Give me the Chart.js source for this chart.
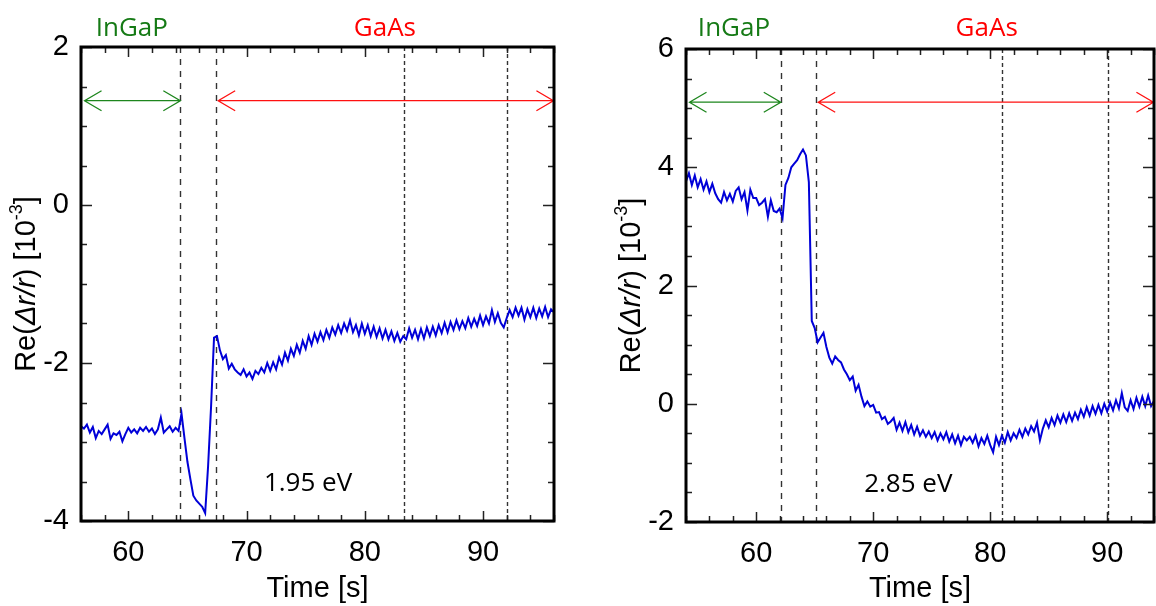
<!DOCTYPE html>
<html>
<head>
<meta charset="utf-8">
<script src="https://cdn.jsdelivr.net/npm/chart.js@4.4.1/dist/chart.umd.min.js"></script>
<style>
  html, body { margin: 0; padding: 0; background: #fff; }
  #wrap { position: relative; width: 1156px; height: 606px; overflow: hidden; }
  canvas { position: absolute; top: 0; }
  #left { left: 0; }
  #right { left: 578px; }
</style>
</head>
<body>
<div id="wrap">
  <canvas id="left" width="578" height="606"></canvas>
  <canvas id="right" width="578" height="606"></canvas>
</div>
<script>
// --- left panel (1.95 eV) ---
const timeL = [
  56, 56.25, 56.5, 56.75, 57, 57.25, 57.5, 57.75,
  58, 58.25, 58.5, 58.75, 59, 59.25, 59.5, 59.75,
  60, 60.25, 60.5, 60.75, 61, 61.25, 61.5, 61.75,
  62, 62.25, 62.5, 62.75, 63, 63.25, 63.5, 63.75,
  64, 64.25, 64.5, 64.75, 65, 65.25, 65.5, 65.75,
  66, 66.25, 66.5, 66.75, 67, 67.25, 67.5, 67.75,
  68, 68.25, 68.5, 68.75, 69, 69.25, 69.5, 69.75,
  70, 70.25, 70.5, 70.75, 71, 71.25, 71.5, 71.75,
  72, 72.25, 72.5, 72.75, 73, 73.25, 73.5, 73.75,
  74, 74.25, 74.5, 74.75, 75, 75.25, 75.5, 75.75,
  76, 76.25, 76.5, 76.75, 77, 77.25, 77.5, 77.75,
  78, 78.25, 78.5, 78.75, 79, 79.25, 79.5, 79.75,
  80, 80.25, 80.5, 80.75, 81, 81.25, 81.5, 81.75,
  82, 82.25, 82.5, 82.75, 83, 83.25, 83.5, 83.75,
  84, 84.25, 84.5, 84.75, 85, 85.25, 85.5, 85.75,
  86, 86.25, 86.5, 86.75, 87, 87.25, 87.5, 87.75,
  88, 88.25, 88.5, 88.75, 89, 89.25, 89.5, 89.75,
  90, 90.25, 90.5, 90.75, 91, 91.25, 91.5, 91.75,
  92, 92.25, 92.5, 92.75, 93, 93.25, 93.5, 93.75,
  94, 94.25, 94.5, 94.75, 95, 95.25, 95.5, 95.75,
  96
];
const reL = [
  -2.80, -2.83, -2.78, -2.88, -2.81, -2.95, -2.86, -2.90,
  -2.84, -2.78, -2.96, -2.89, -2.91, -2.87, -2.99, -2.90,
  -2.82, -2.88, -2.84, -2.89, -2.82, -2.86, -2.81, -2.87,
  -2.83, -2.90, -2.84, -2.69, -2.88, -2.84, -2.80, -2.87,
  -2.82, -2.86, -2.64, -2.95, -3.25, -3.47, -3.68, -3.74,
  -3.78, -3.82, -3.90, -3.30, -2.55, -1.68, -1.66, -1.84,
  -1.95, -1.90, -2.07, -2.01, -2.08, -2.12, -2.15, -2.08,
  -2.17, -2.12, -2.20, -2.10, -2.14, -2.06, -2.12, -2.00,
  -2.10, -1.99, -2.08, -1.93, -2.02, -1.87, -1.97, -1.82,
  -1.91, -1.77, -1.87, -1.72, -1.82, -1.66, -1.77, -1.63,
  -1.73, -1.61, -1.71, -1.58, -1.68, -1.55, -1.64, -1.52,
  -1.62, -1.50, -1.59, -1.46, -1.61, -1.52, -1.65, -1.50,
  -1.63, -1.52, -1.66, -1.54, -1.67, -1.56, -1.69, -1.58,
  -1.70, -1.60, -1.72, -1.62, -1.73, -1.66, -1.70, -1.56,
  -1.68, -1.58, -1.70, -1.57, -1.69, -1.55, -1.66, -1.54,
  -1.65, -1.52, -1.62, -1.49, -1.61, -1.48, -1.58, -1.46,
  -1.57, -1.47, -1.56, -1.43, -1.54, -1.44, -1.53, -1.40,
  -1.52, -1.41, -1.50, -1.33, -1.48, -1.37, -1.49, -1.55,
  -1.43, -1.33, -1.42, -1.30, -1.40, -1.30, -1.45, -1.32,
  -1.42, -1.30, -1.43, -1.31, -1.41, -1.29, -1.42, -1.32,
  -1.36
];
const xTicksL = [60, 70, 80, 90];
const yTicksL = [-4, -2, 0, 2];
const dashL = [64.4, 67.4, 83.3, 92.0];

// --- right panel (2.85 eV) ---
const timeR = [
  54, 54.25, 54.5, 54.75, 55, 55.25, 55.5, 55.75,
  56, 56.25, 56.5, 56.75, 57, 57.25, 57.5, 57.75,
  58, 58.25, 58.5, 58.75, 59, 59.25, 59.5, 59.75,
  60, 60.25, 60.5, 60.75, 61, 61.25, 61.5, 61.75,
  62, 62.25, 62.5, 62.75, 63, 63.25, 63.5, 63.75,
  64, 64.25, 64.5, 64.75, 65, 65.25, 65.5, 65.75,
  66, 66.25, 66.5, 66.75, 67, 67.25, 67.5, 67.75,
  68, 68.25, 68.5, 68.75, 69, 69.25, 69.5, 69.75,
  70, 70.25, 70.5, 70.75, 71, 71.25, 71.5, 71.75,
  72, 72.25, 72.5, 72.75, 73, 73.25, 73.5, 73.75,
  74, 74.25, 74.5, 74.75, 75, 75.25, 75.5, 75.75,
  76, 76.25, 76.5, 76.75, 77, 77.25, 77.5, 77.75,
  78, 78.25, 78.5, 78.75, 79, 79.25, 79.5, 79.75,
  80, 80.25, 80.5, 80.75, 81, 81.25, 81.5, 81.75,
  82, 82.25, 82.5, 82.75, 83, 83.25, 83.5, 83.75,
  84, 84.25, 84.5, 84.75, 85, 85.25, 85.5, 85.75,
  86, 86.25, 86.5, 86.75, 87, 87.25, 87.5, 87.75,
  88, 88.25, 88.5, 88.75, 89, 89.25, 89.5, 89.75,
  90, 90.25, 90.5, 90.75, 91, 91.25, 91.5, 91.75,
  92, 92.25, 92.5, 92.75, 93, 93.25, 93.5, 93.75,
  94
];
const reR = [
  3.76, 3.90, 3.70, 3.86, 3.66, 3.80, 3.62, 3.76,
  3.58, 3.72, 3.56, 3.46, 3.40, 3.58, 3.44, 3.55,
  3.42, 3.60, 3.66, 3.46, 3.58, 3.27, 3.62, 3.48,
  3.48, 3.36, 3.40, 3.46, 3.16, 3.44, 3.26, 3.24,
  3.30, 3.14, 3.70, 3.82, 4.00, 4.06, 4.12, 4.22,
  4.30, 4.20, 3.75, 1.40, 1.28, 1.04, 1.12, 1.20,
  0.96, 0.78, 0.68, 0.80, 0.74, 0.70, 0.58, 0.50,
  0.40, 0.46, 0.22, 0.32, 0.12, -0.04, 0.04, -0.05,
  -0.02, -0.15, -0.14, -0.26, -0.22, -0.34, -0.30, -0.24,
  -0.44, -0.32, -0.46, -0.31, -0.48, -0.36, -0.52, -0.39,
  -0.54, -0.45, -0.56, -0.47, -0.58, -0.48, -0.62, -0.50,
  -0.60, -0.48, -0.64, -0.52, -0.67, -0.54, -0.70, -0.56,
  -0.62, -0.56, -0.66, -0.54, -0.72, -0.58, -0.68, -0.54,
  -0.70, -0.82, -0.56, -0.70, -0.54, -0.66, -0.48, -0.62,
  -0.50, -0.58, -0.44, -0.56, -0.42, -0.52, -0.38, -0.47,
  -0.32, -0.62, -0.42, -0.28, -0.40, -0.24, -0.36, -0.20,
  -0.32, -0.18, -0.31, -0.16, -0.29, -0.15, -0.26, -0.10,
  -0.22, -0.06, -0.20, -0.04, -0.17, -0.02, -0.16, 0.00,
  -0.13, 0.02, -0.11, 0.06, -0.08, 0.18, -0.06, -0.12,
  0.06, -0.09, 0.10, -0.05, 0.12, -0.04, 0.14, -0.04,
  0.05
];
const xTicksR = [60, 70, 80, 90];
const yTicksR = [-2, 0, 2, 4, 6];
const dashR = [62.1, 65.1, 81.0, 90.1];

const AXIS_FONT = 'Liberation Sans';
const NOTE_FONT = 'Open Sans';

function arrow(ctx, x1, x2, y, color) {
  ctx.strokeStyle = color;
  ctx.lineWidth = 1.3;
  ctx.beginPath();
  ctx.moveTo(x1, y); ctx.lineTo(x2, y);
  ctx.moveTo(x1 + 17, y - 10); ctx.lineTo(x1, y); ctx.lineTo(x1 + 17, y + 10);
  ctx.moveTo(x2 - 17, y - 10); ctx.lineTo(x2, y); ctx.lineTo(x2 - 17, y + 10);
  ctx.stroke();
}

// extra drawing: frame, inward ticks, dashed markers, arrows, notes, y title
function decoPlugin(o) {
  return {
    id: 'deco',
    beforeDatasetsDraw(chart) {
      const { ctx, chartArea: a, scales: { x, y } } = chart;
      ctx.save();
      ctx.strokeStyle = '#333';
      ctx.lineWidth = 1.4;
      o.dashes.forEach((t, i) => {
        ctx.setLineDash(i < 2 ? [6, 6] : [4, 3]);
        const px = Math.round(x.getPixelForValue(t)) + 0.5;
        ctx.beginPath(); ctx.moveTo(px, a.top); ctx.lineTo(px, a.bottom); ctx.stroke();
      });
      ctx.setLineDash([]);
      const ay = y.getPixelForValue(o.arrowY);
      arrow(ctx, x.getPixelForValue(o.green[0]), x.getPixelForValue(o.green[1]), ay, '#1d861d');
      arrow(ctx, x.getPixelForValue(o.red[0]), x.getPixelForValue(o.red[1]), ay, '#ff1010');
      ctx.restore();
    },
    afterDraw(chart) {
      const { ctx, chartArea: a, scales: { x, y } } = chart;
      ctx.save();
      // ticks pointing inwards on all four sides
      ctx.strokeStyle = '#222';
      ctx.lineWidth = 1.5;
      ctx.beginPath();
      for (let v = o.xMin; v <= o.xMax + 1e-9; v += 2) {
        const len = o.xTicks.includes(v) ? 10 : 6;
        const px = Math.round(x.getPixelForValue(v)) + 0.5;
        ctx.moveTo(px, a.bottom); ctx.lineTo(px, a.bottom - len);
        ctx.moveTo(px, a.top); ctx.lineTo(px, a.top + len);
      }
      for (let v = o.yMin; v <= o.yMax + 1e-9; v += 0.5) {
        const len = o.yTicks.includes(v) ? 11 : 6;
        const py = Math.round(y.getPixelForValue(v)) + 0.5;
        ctx.moveTo(a.left, py); ctx.lineTo(a.left + len, py);
        ctx.moveTo(a.right, py); ctx.lineTo(a.right - len, py);
      }
      ctx.stroke();
      // frame
      ctx.strokeStyle = '#000';
      ctx.lineWidth = 3;
      ctx.strokeRect(a.left, a.top, a.right - a.left, a.bottom - a.top);
      // layer names and photon energy
      ctx.font = '26px "' + NOTE_FONT + '"';
      ctx.textAlign = 'center';
      ctx.textBaseline = 'alphabetic';
      ctx.fillStyle = '#157a15';
      ctx.fillText('InGaP', x.getPixelForValue(o.ingapX), 36);
      ctx.fillStyle = '#ff0000';
      ctx.fillText('GaAs', x.getPixelForValue(o.gaasX), 36);
      ctx.fillStyle = '#000';
      ctx.textBaseline = 'middle';
      ctx.fillText(o.energy, x.getPixelForValue(o.energyAt[0]), y.getPixelForValue(o.energyAt[1]));
      // y axis title with italic part and superscript
      ctx.translate(o.titleX, (a.top + a.bottom) / 2);
      ctx.rotate(-Math.PI / 2);
      const normal = '29px "' + AXIS_FONT + '"';
      const parts = [
        ['Re(', normal, 0],
        ['\u0394r/r', 'italic ' + normal, 0],
        [') [10', normal, 0],
        ['-3', '18px "' + AXIS_FONT + '"', -10],
        [']', normal, 0]
      ];
      let w = 0;
      parts.forEach(p => { ctx.font = p[1]; w += ctx.measureText(p[0]).width; });
      let cx = -w / 2;
      ctx.textAlign = 'left';
      ctx.textBaseline = 'middle';
      parts.forEach(p => {
        ctx.font = p[1];
        ctx.fillText(p[0], cx, p[2]);
        cx += ctx.measureText(p[0]).width;
      });
      ctx.restore();
    }
  };
}

function makeChart(id, o) {
  const tickFont = { family: AXIS_FONT, size: 29 };
  return new Chart(document.getElementById(id), {
    type: 'line',
    data: {
      datasets: [{
        data: o.times.map((t, i) => ({ x: t, y: o.values[i] })),
        borderColor: '#0000d8',
        borderWidth: 2,
        pointRadius: 0,
        tension: 0,
        fill: false
      }]
    },
    options: {
      responsive: false,
      animation: false,
      devicePixelRatio: 1,
      layout: { padding: o.pad },
      plugins: { legend: { display: false }, tooltip: { enabled: false } },
      scales: {
        x: {
          type: 'linear',
          min: o.xMin,
          max: o.xMax,
          afterBuildTicks: s => { s.ticks = o.xTicks.map(v => ({ value: v })); },
          afterFit: s => { s.height = o.xHeight; },
          grid: { display: false, drawTicks: false },
          border: { display: false },
          ticks: { font: tickFont, color: '#000', padding: 15, maxRotation: 0 },
          title: { display: true, text: 'Time [s]', font: tickFont, color: '#000', padding: { top: 0, bottom: 0 } }
        },
        y: {
          type: 'linear',
          min: o.yMin,
          max: o.yMax,
          afterBuildTicks: s => { s.ticks = o.yTicks.map(v => ({ value: v })); },
          afterFit: s => { s.width = o.yWidth; },
          grid: { display: false, drawTicks: false },
          border: { display: false },
          ticks: { font: tickFont, color: '#000', padding: 12 }
        }
      }
    },
    plugins: [decoPlugin(o)]
  });
}

makeChart('left', {
  times: timeL, values: reL,
  xMin: 56, xMax: 96, yMin: -4, yMax: 2,
  xTicks: xTicksL, yTicks: yTicksL, dashes: dashL,
  green: [56.3, 64.4], red: [67.6, 95.95], arrowY: 1.32,
  ingapX: 60.3, gaasX: 81.7,
  energy: '1.95 eV', energyAt: [75.2, -3.53],
  pad: { left: 0, top: 47, right: 24, bottom: 0 },
  yWidth: 81, xHeight: 85, titleX: 27
});

makeChart('right', {
  times: timeR, values: reR,
  xMin: 54, xMax: 94, yMin: -2, yMax: 6,
  xTicks: xTicksR, yTicks: yTicksR, dashes: dashR,
  green: [54.3, 62.1], red: [65.3, 93.95], arrowY: 5.1,
  ingapX: 58.1, gaasX: 79.7,
  energy: '2.85 eV', energyAt: [73.0, -1.37],
  pad: { left: 0, top: 49, right: 2, bottom: 0 },
  yWidth: 108, xHeight: 84, titleX: 54
});
</script>
</body>
</html>
